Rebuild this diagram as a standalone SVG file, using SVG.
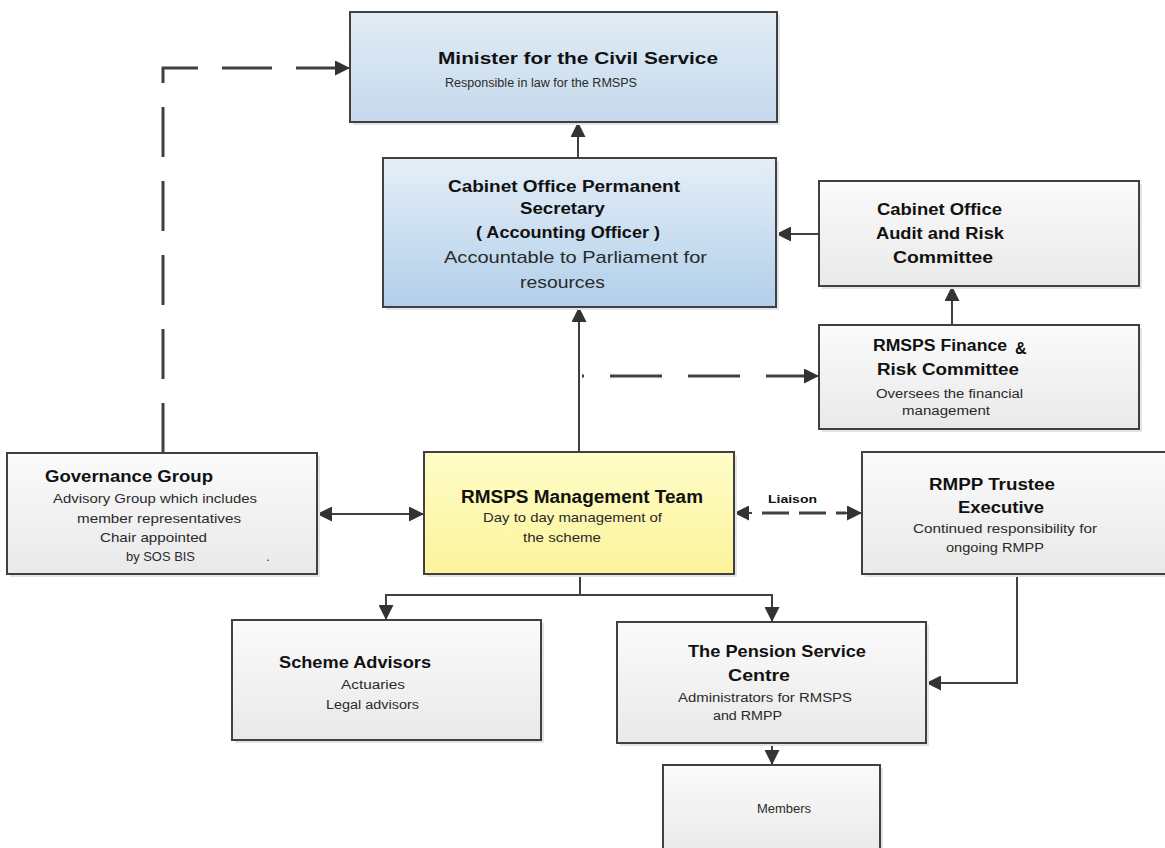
<svg xmlns="http://www.w3.org/2000/svg" width="1165" height="848" viewBox="0 0 1165 848">
<style>
.box{stroke:#404040;stroke-width:2}
.sh{fill:#e4e4e4}
.t{font-family:"Liberation Sans",Arial,sans-serif;font-weight:bold;fill:#111}
.s{font-family:"Liberation Sans",Arial,sans-serif;fill:#2a2a2a}
.ln{fill:none;stroke:#404040;stroke-width:2}
.dash{fill:none;stroke:#404040;stroke-width:3;stroke-dasharray:50 24}
</style>
<defs>
<linearGradient id="gGray" x1="0" y1="0" x2="0" y2="1"><stop offset="0" stop-color="#fbfbfb"/><stop offset="1" stop-color="#e9e9e9"/></linearGradient>
<linearGradient id="gBlue1" x1="0" y1="0" x2="0" y2="1"><stop offset="0" stop-color="#e2ecf5"/><stop offset="1" stop-color="#c4d9ec"/></linearGradient>
<linearGradient id="gBlue2" x1="0" y1="0" x2="0" y2="1"><stop offset="0" stop-color="#e6eff8"/><stop offset="1" stop-color="#b1cfea"/></linearGradient>
<linearGradient id="gYel" x1="0" y1="0" x2="0" y2="1"><stop offset="0" stop-color="#fffdc8"/><stop offset="1" stop-color="#fcf39a"/></linearGradient>
<marker id="arr" viewBox="0 0 10 10" refX="10" refY="5" markerWidth="16" markerHeight="15" markerUnits="userSpaceOnUse" orient="auto-start-reverse"><path d="M0,0 L10,5 L0,10 z" fill="#333"/></marker>
</defs>

<g id="connectors">
<path class="dash" d="M163,453 V68 H336"/>
<path d="M334,68 H350" class="ln" stroke-width="3" marker-end="url(#arr)"/>
<path class="ln" d="M578,158 V122" marker-end="url(#arr)"/>
<path class="ln" d="M819,234 H776" marker-end="url(#arr)"/>
<path class="ln" d="M952,325 V286" marker-end="url(#arr)"/>
<path class="ln" d="M579,452 V307" marker-end="url(#arr)"/>
<path d="M582,376 H806" fill="none" stroke="#404040" stroke-width="3" stroke-dasharray="52 26" stroke-dashoffset="50"/>
<path d="M802,376 H819" class="ln" stroke-width="3" marker-end="url(#arr)"/>
<path class="ln" d="M317,514 H424" marker-start="url(#arr)" marker-end="url(#arr)"/>
<path d="M752,513 H846" fill="none" stroke="#404040" stroke-width="3" stroke-dasharray="27 10" stroke-dashoffset="-10"/>
<path d="M752,513 H734" class="ln" stroke-width="3" marker-end="url(#arr)"/>
<path d="M846,513 H862" class="ln" stroke-width="3" marker-end="url(#arr)"/>
<path class="ln" d="M580,574 V595 H386 V620" marker-end="url(#arr)"/>
<path class="ln" d="M580,595 H772 V622" marker-end="url(#arr)"/>
<path class="ln" d="M1017,574 V683 H926" marker-end="url(#arr)"/>
<path class="ln" d="M772,743 V765" marker-end="url(#arr)"/>
<text class="t" x="768" y="503" font-size="11" textLength="49" lengthAdjust="spacingAndGlyphs">Liaison</text>
</g>

<g id="minister">
<rect class="sh" x="353" y="15" width="427" height="110"/>
<rect class="box" x="350" y="12" width="427" height="110" fill="url(#gBlue1)"/>
<text class="t" x="438" y="64" font-size="17" textLength="280" lengthAdjust="spacingAndGlyphs">Minister for the Civil Service</text>
<text class="s" x="445" y="87" font-size="12" textLength="192" lengthAdjust="spacingAndGlyphs">Responsible in law for the RMSPS</text>
</g>

<g id="cabinet">
<rect class="sh" x="386" y="161" width="393" height="149"/>
<rect class="box" x="383" y="158" width="393" height="149" fill="url(#gBlue2)"/>
<text class="t" x="448" y="192" font-size="16" textLength="232" lengthAdjust="spacingAndGlyphs">Cabinet Office Permanent</text>
<text class="t" x="520" y="214" font-size="16" textLength="85" lengthAdjust="spacingAndGlyphs">Secretary</text>
<text class="t" x="476" y="238" font-size="16" textLength="184" lengthAdjust="spacingAndGlyphs">( Accounting Officer )</text>
<text class="s" x="444" y="263" font-size="17" textLength="263" lengthAdjust="spacingAndGlyphs">Accountable to Parliament for</text>
<text class="s" x="520" y="288" font-size="17" textLength="85" lengthAdjust="spacingAndGlyphs">resources</text>
</g>

<g id="audit">
<rect class="sh" x="822" y="184" width="320" height="105"/>
<rect class="box" x="819" y="181" width="320" height="105" fill="url(#gGray)"/>
<text class="t" x="877" y="215" font-size="16" textLength="125" lengthAdjust="spacingAndGlyphs">Cabinet Office</text>
<text class="t" x="876" y="239" font-size="16" textLength="128" lengthAdjust="spacingAndGlyphs">Audit and Risk</text>
<text class="t" x="893" y="263" font-size="16" textLength="100" lengthAdjust="spacingAndGlyphs">Committee</text>
</g>

<g id="finance">
<rect class="sh" x="822" y="328" width="320" height="104"/>
<rect class="box" x="819" y="325" width="320" height="104" fill="url(#gGray)"/>
<text class="t" x="873" y="351" font-size="16" textLength="134" lengthAdjust="spacingAndGlyphs">RMSPS Finance</text>
<text class="t" x="1015" y="354" font-size="16">&amp;</text>
<text class="t" x="877" y="375" font-size="16" textLength="142" lengthAdjust="spacingAndGlyphs">Risk Committee</text>
<text class="s" x="876" y="398" font-size="12" textLength="147" lengthAdjust="spacingAndGlyphs">Oversees the financial</text>
<text class="s" x="902" y="415" font-size="12" textLength="88" lengthAdjust="spacingAndGlyphs">management</text>
</g>

<g id="governance">
<rect class="sh" x="10" y="456" width="310" height="121"/>
<rect class="box" x="7" y="453" width="310" height="121" fill="url(#gGray)"/>
<text class="t" x="45" y="482" font-size="17" textLength="168" lengthAdjust="spacingAndGlyphs">Governance Group</text>
<text class="s" x="53" y="503" font-size="13" textLength="204" lengthAdjust="spacingAndGlyphs">Advisory Group which includes</text>
<text class="s" x="77" y="523" font-size="13" textLength="164" lengthAdjust="spacingAndGlyphs">member representatives</text>
<text class="s" x="100" y="542" font-size="13" textLength="107" lengthAdjust="spacingAndGlyphs">Chair appointed</text>
<text class="s" x="126" y="561" font-size="13" textLength="69" lengthAdjust="spacingAndGlyphs">by SOS BIS</text>
<text class="s" x="266" y="561" font-size="13">.</text>
</g>

<g id="management">
<rect class="sh" x="427" y="455" width="310" height="122"/>
<rect class="box" x="424" y="452" width="310" height="122" fill="url(#gYel)"/>
<text class="t" x="461" y="503" font-size="18" textLength="242" lengthAdjust="spacingAndGlyphs">RMSPS Management Team</text>
<text class="s" x="483" y="522" font-size="13" textLength="179" lengthAdjust="spacingAndGlyphs">Day to day management of</text>
<text class="s" x="523" y="542" font-size="13" textLength="78" lengthAdjust="spacingAndGlyphs">the scheme</text>
</g>

<g id="rmpp">
<rect class="sh" x="865" y="455" width="310" height="122"/>
<rect class="box" x="862" y="452" width="310" height="122" fill="url(#gGray)"/>
<text class="t" x="929" y="490" font-size="16" textLength="126" lengthAdjust="spacingAndGlyphs">RMPP Trustee</text>
<text class="t" x="958" y="513" font-size="16" textLength="86" lengthAdjust="spacingAndGlyphs">Executive</text>
<text class="s" x="913" y="533" font-size="13" textLength="184" lengthAdjust="spacingAndGlyphs">Continued responsibility for</text>
<text class="s" x="946" y="552" font-size="13" textLength="98" lengthAdjust="spacingAndGlyphs">ongoing RMPP</text>
</g>

<g id="scheme">
<rect class="sh" x="235" y="623" width="309" height="120"/>
<rect class="box" x="232" y="620" width="309" height="120" fill="url(#gGray)"/>
<text class="t" x="279" y="668" font-size="17" textLength="152" lengthAdjust="spacingAndGlyphs">Scheme Advisors</text>
<text class="s" x="341" y="689" font-size="12" textLength="64" lengthAdjust="spacingAndGlyphs">Actuaries</text>
<text class="s" x="326" y="709" font-size="12" textLength="93" lengthAdjust="spacingAndGlyphs">Legal advisors</text>
</g>

<g id="pension">
<rect class="sh" x="620" y="625" width="309" height="121"/>
<rect class="box" x="617" y="622" width="309" height="121" fill="url(#gGray)"/>
<text class="t" x="688" y="657" font-size="17" textLength="178" lengthAdjust="spacingAndGlyphs">The Pension Service</text>
<text class="t" x="728" y="681" font-size="17" textLength="62" lengthAdjust="spacingAndGlyphs">Centre</text>
<text class="s" x="678" y="702" font-size="12" textLength="174" lengthAdjust="spacingAndGlyphs">Administrators for RMSPS</text>
<text class="s" x="713" y="720" font-size="12" textLength="69" lengthAdjust="spacingAndGlyphs">and RMPP</text>
</g>

<g id="members">
<rect class="sh" x="666" y="768" width="217" height="90"/>
<rect class="box" x="663" y="765" width="217" height="90" fill="url(#gGray)"/>
<text class="s" x="757" y="813" font-size="12" textLength="54" lengthAdjust="spacingAndGlyphs">Members</text>
</g>
</svg>
